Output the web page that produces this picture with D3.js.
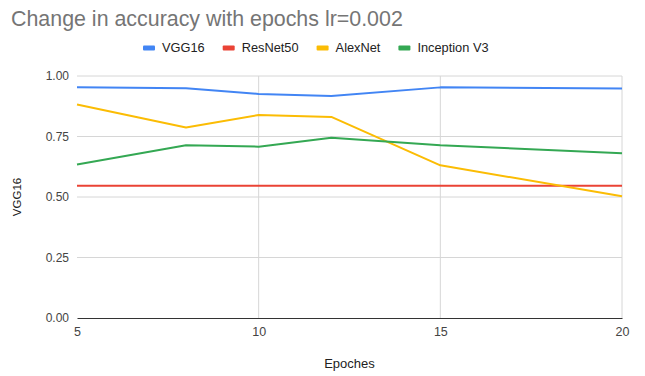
<!DOCTYPE html>
<html>
<head>
<meta charset="utf-8">
<script src="https://cdn.jsdelivr.net/npm/d3@7"></script>
<style>
  html, body { margin: 0; padding: 0; background: #fff; }
  svg { display: block; font-family: "Liberation Sans", Arial, sans-serif; }
</style>
</head>
<body>
<svg id="chart" width="645" height="376"></svg>
<script>
// Epochs on the x axis
const epochs = [5, 8, 10, 12, 15, 20];

// Accuracy per model
const vgg16     = [0.953, 0.949, 0.926, 0.917, 0.953, 0.948];
const resnet50  = [0.546, 0.546, 0.546, 0.546, 0.546, 0.546];
const alexnet   = [0.882, 0.787, 0.839, 0.831, 0.631, 0.503];
const inception = [0.634, 0.714, 0.708, 0.745, 0.714, 0.681];

const seriesNames  = ["VGG16", "ResNet50", "AlexNet", "Inception V3"];
const seriesColors = ["#4285F4", "#EA4335", "#FBBC04", "#34A853"];
const xTicks = [5, 10, 15, 20];
const yTicks = [0, 0.25, 0.5, 0.75, 1];

const chartTitle = "Change in accuracy with epochs lr=0.002";
const xTitle = "Epoches";
const yTitle = "VGG16";

const series = [vgg16, resnet50, alexnet, inception].map((vals, i) => ({
  name: seriesNames[i],
  color: seriesColors[i],
  values: vals.map((v, j) => ({ x: epochs[j], y: v }))
}));

const svg = d3.select("#chart");
const margin = { left: 77, right: 23, top: 76, bottom: 58 };
const W = 645, H = 376;

const x = d3.scaleLinear().domain([5, 20]).range([margin.left, W - margin.right]);
const y = d3.scaleLinear().domain([0, 1]).range([H - margin.bottom, margin.top]);

// Title
svg.append("text")
  .attr("x", 11).attr("y", 26)
  .attr("font-size", 21.4).attr("fill", "#757575")
  .text(chartTitle);

// Legend: swatch, label, then gap to the next entry
const legend = svg.append("g").attr("transform", "translate(143,48)");
let lx = 0;
series.forEach(s => {
  const g = legend.append("g").attr("transform", `translate(${lx},0)`);
  g.append("rect").attr("x", 0).attr("y", -2.5).attr("width", 12).attr("height", 5)
    .attr("rx", 1).attr("fill", s.color);
  const t = g.append("text").attr("x", 19).attr("y", 0).attr("dy", "0.35em")
    .attr("font-size", 12.8).attr("fill", "#222").text(s.name);
  lx += 19 + t.node().getComputedTextLength() + 18;
});

// Horizontal gridlines
svg.append("g")
  .selectAll("line").data(yTicks.filter(d => d > 0)).join("line")
  .attr("x1", x(5)).attr("x2", x(20))
  .attr("y1", d => y(d)).attr("y2", d => y(d))
  .attr("stroke", "#d6d6d6").attr("stroke-width", 1);

// Vertical gridlines
svg.append("g")
  .selectAll("line").data(xTicks.filter(d => d > 5)).join("line")
  .attr("x1", d => x(d)).attr("x2", d => x(d))
  .attr("y1", y(0)).attr("y2", y(1))
  .attr("stroke", "#d6d6d6").attr("stroke-width", 1);

// Y axis labels
const yAxis = d3.axisLeft(y).tickValues(yTicks).tickFormat(d3.format(".2f")).tickSize(0).tickPadding(8);
svg.append("g").attr("transform", `translate(${x(5)},0)`).call(yAxis)
  .call(g => g.select(".domain").remove())
  .call(g => g.selectAll("text").attr("font-size", 12).attr("fill", "#444")
    .attr("font-family", "'Liberation Sans', Arial, sans-serif"));

// X axis
const xAxis = d3.axisBottom(x).tickValues(xTicks).tickFormat(d3.format("d")).tickSize(0).tickPadding(9);
svg.append("g").attr("transform", `translate(0,${y(0)})`).call(xAxis)
  .call(g => g.select(".domain").attr("stroke", "#333").attr("stroke-width", 1.2))
  .call(g => g.selectAll("text").attr("font-size", 12.5).attr("fill", "#444")
    .attr("font-family", "'Liberation Sans', Arial, sans-serif"));

// Axis titles
svg.append("text")
  .attr("x", (x(5) + x(20)) / 2).attr("y", 368)
  .attr("text-anchor", "middle").attr("font-size", 13).attr("fill", "#222")
  .text(xTitle);
svg.append("text")
  .attr("transform", `translate(21,${(y(0) + y(1)) / 2}) rotate(-90)`)
  .attr("text-anchor", "middle").attr("font-size", 11.5).attr("fill", "#222")
  .text(yTitle);

// Lines
const line = d3.line().x(d => x(d.x)).y(d => y(d.y));
svg.append("g")
  .selectAll("path").data(series).join("path")
  .attr("d", d => line(d.values))
  .attr("fill", "none")
  .attr("stroke", d => d.color)
  .attr("stroke-width", 2)
  .attr("stroke-linejoin", "round");
</script>
</body>
</html>
